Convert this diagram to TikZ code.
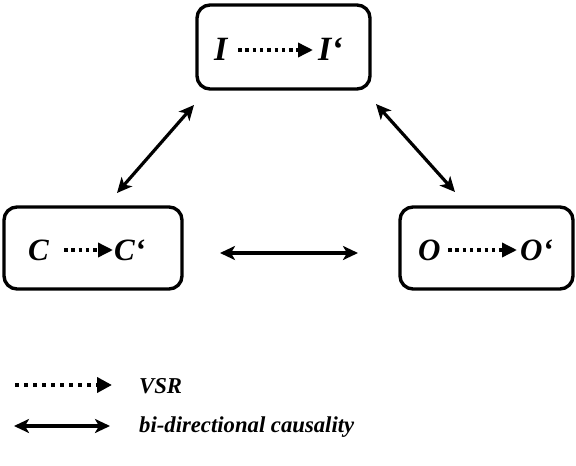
\documentclass[tikz,border=0pt]{standalone}
\usepackage{fontspec}
\setmainfont{Liberation Serif}
\usetikzlibrary{arrows.meta}
\begin{document}
\begin{tikzpicture}[x=1pt,y=-1pt,
  boxst/.style={draw,line width=3.4pt,rounded corners=13pt},
  lbl/.style={font=\bfseries\itshape\fontsize{31}{34}\selectfont,inner sep=0pt,anchor=base west},
  lbltop/.style={lbl,font=\bfseries\itshape\fontsize{34}{38}\selectfont},
  leg/.style={font=\bfseries\itshape\fontsize{22.7}{26}\selectfont,inner sep=0pt,anchor=west},
  vsr/.style={line width=3.5pt,dash pattern=on 3.5pt off 3.8pt,-{Triangle[length=15pt,width=14pt]}},
  vsrleg/.style={line width=4pt,dash pattern=on 4pt off 5pt,-{Triangle[length=15pt,width=15pt]}},
  bidir/.style={line width=3.2pt,{Stealth[length=15pt,width=14pt,inset=4pt]}-{Stealth[length=15pt,width=14pt,inset=4pt]}}]
\useasboundingbox (0,0) rectangle (576,466);
% boxes
\draw[boxst] (197,5) rectangle (370,89);
\draw[boxst] (4,207) rectangle (182,289);
\draw[boxst] (400,207) rectangle (573,289);
% labels
\node[lbltop] (I) at (214,60) {I};
\node[lbltop] (Ip) at (318,60) {I‘};
\node[lbl] (C) at (28,260) {C};
\node[lbl] (Cp) at (114,260) {C‘};
\node[lbl] (O) at (418,260) {O};
\node[lbl] (Op) at (520,260) {O‘};
\coordinate (i1) at (238,50);
\coordinate (i2) at (313,50);
\draw[vsr] (i1) -- (i2);
\coordinate (tC1) at (64,250);
\coordinate (tC2) at (113,250);
\draw[vsr] (tC1) -- (tC2);
\coordinate (tO1) at (448,250);
\coordinate (tO2) at (517,250);
\draw[vsr] (tO1) -- (tO2);
% connectors between boxes
\coordinate (a1) at (194,105);
\coordinate (a2) at (117,193);
\draw[bidir] (a1) -- (a2);
\coordinate (b1) at (376,104);
\coordinate (b2) at (455,192);
\draw[bidir] (b1) -- (b2);
\coordinate (c1) at (220,253);
\coordinate (c2) at (358,253);
\draw[bidir] (c1) -- (c2);
% legend
\coordinate (l1) at (15,385);
\coordinate (l2) at (112,385);
\draw[vsrleg] (l1) -- (l2);
\node[leg] (vsrlbl) at (139,386) {VSR};
\coordinate (m1) at (14,426);
\coordinate (m2) at (110,426);
\draw[bidir] (m1) -- (m2);
\node[leg] (bilbl) at (139,427) {bi-directional causality};
\end{tikzpicture}
\end{document}
